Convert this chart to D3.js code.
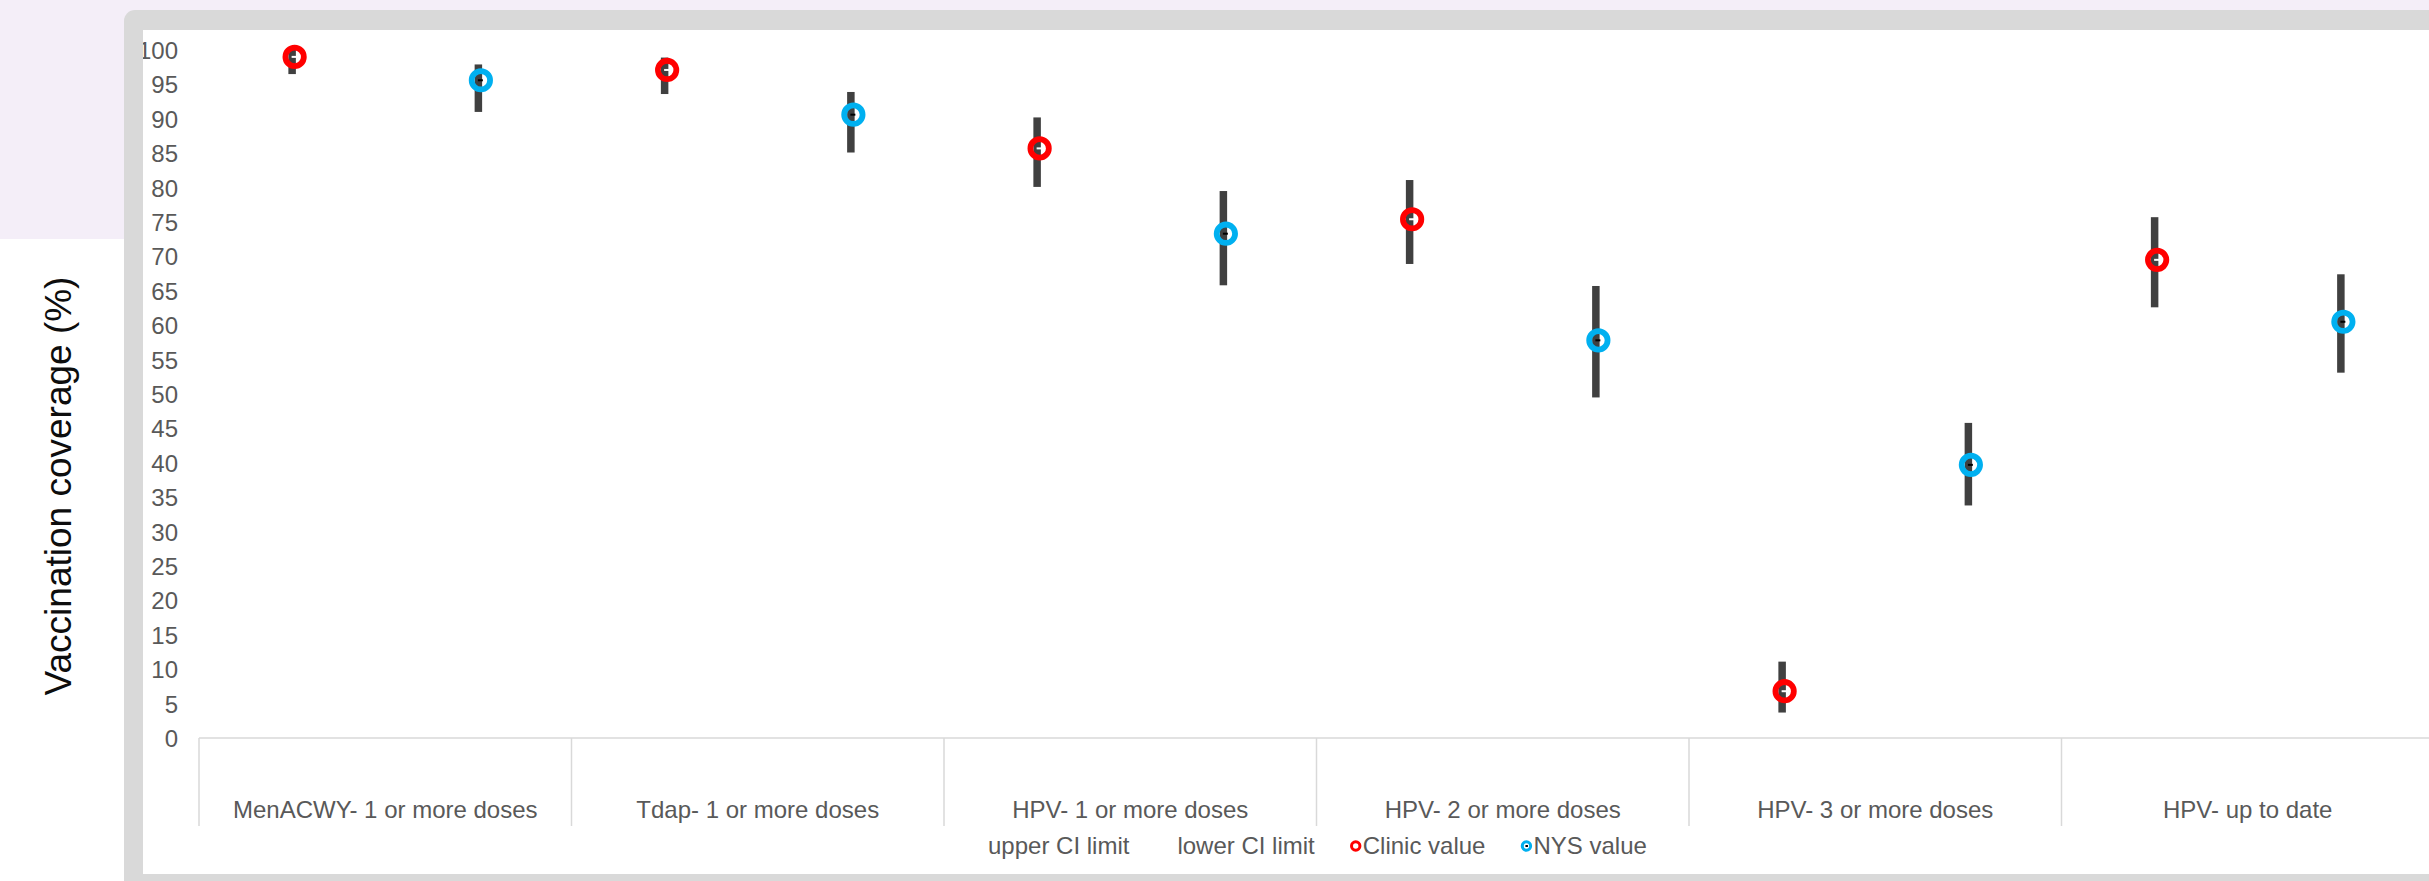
<!DOCTYPE html>
<html><head><meta charset="utf-8">
<script src="https://cdn.jsdelivr.net/npm/d3@7"></script>
<style>
body{margin:0;background:#fff;}
svg{display:block;font-family:"Liberation Sans",Arial,sans-serif;}
</style>
</head><body>
<svg id="c" width="2429" height="881"></svg>
<script>
const categories = ["MenACWY- 1 or more doses","Tdap- 1 or more doses","HPV- 1 or more doses","HPV- 2 or more doses","HPV- 3 or more doses","HPV- up to date"];
const clinicValue = [99.0, 97.1, 85.7, 75.4, 6.8, 69.5];
const clinicUpper = [100.0, 98.9, 90.2, 81.1, 11.1, 75.7];
const clinicLower = [96.5, 93.6, 80.1, 68.9, 3.7, 62.6];
const nysValue = [95.6, 90.6, 73.3, 57.8, 39.7, 60.5];
const nysUpper = [97.9, 93.9, 79.5, 65.7, 45.8, 67.4];
const nysLower = [91.0, 85.1, 65.8, 49.5, 33.8, 53.1];
const yTicks = [0,5,10,15,20,25,30,35,40,45,50,55,60,65,70,75,80,85,90,95,100];
const seriesNames = ["Clinic value","NYS value"];
const seriesColors = ["#ff0000","#00b0f0"];
const dashColors = ["#ffffff","#000000"];
const legendLabels = ["upper CI limit","lower CI limit","Clinic value","NYS value"];
const legendMarkers = [null, null, 0, 1];
const yTitle = "Vaccination coverage (%)";

const svg = d3.select("#c");
const W = 2429, H = 881;

// background decorations
svg.append("rect").attr("x",0).attr("y",0).attr("width",W).attr("height",12).attr("fill","#f4eef8");
svg.append("rect").attr("x",0).attr("y",0).attr("width",140).attr("height",239).attr("fill","#f4eef8");
svg.append("rect").attr("x",124).attr("y",10).attr("width",W).attr("height",H+40).attr("rx",11).attr("fill","#d9d9d9");
svg.append("rect").attr("x",143).attr("y",30).attr("width",W).attr("height",844).attr("fill","#ffffff");

svg.append("defs").append("clipPath").attr("id","inner")
  .append("rect").attr("x",143).attr("y",30).attr("width",W).attr("height",844);

const g = svg.append("g").attr("clip-path","url(#inner)");

const x = d3.scaleBand().domain(categories).range([199, 2434]).padding(0);
const xs = d3.scaleBand().domain(seriesNames).range([0, x.bandwidth()]).padding(0);
const y = d3.scaleLinear().domain([0,100]).range([738, 50]);

// y axis labels
const yAxis = d3.axisLeft(y).tickValues(yTicks).tickSize(0).tickPadding(0).tickFormat(d3.format("d"));
const yg = g.append("g").attr("transform","translate(178,0)").call(yAxis);
yg.select(".domain").remove();
yg.selectAll("text").attr("font-size",24).attr("fill","#595959")
  .attr("font-family","'Liberation Sans',Arial,sans-serif").attr("dy","0.35em");

// x axis line
const xr = x.range();
g.append("line").attr("x1",xr[0]).attr("x2",xr[1]).attr("y1",y(0)).attr("y2",y(0))
  .attr("stroke","#d9d9d9").attr("stroke-width",1.5);
// category separators
const bounds = categories.map(c => x(c)).concat([xr[1]]);
g.selectAll("line.sep").data(bounds).join("line").attr("class","sep")
  .attr("x1",d=>d).attr("x2",d=>d).attr("y1",y(0)).attr("y2",826)
  .attr("stroke","#d9d9d9").attr("stroke-width",1.5);
// category labels
g.selectAll("text.cat").data(categories).join("text").attr("class","cat")
  .attr("x",d=>x(d)+x.bandwidth()/2).attr("y",818)
  .attr("text-anchor","middle").attr("font-size",24).attr("fill","#595959").text(d=>d);

// y title
svg.append("text").attr("transform","translate(58,486) rotate(-90)")
  .attr("text-anchor","middle").attr("dominant-baseline","central")
  .attr("font-size",37).attr("fill","#0d0d0d").text(yTitle);

// data
const series = [
  {name:seriesNames[0], v:clinicValue, hi:clinicUpper, lo:clinicLower, s:0},
  {name:seriesNames[1], v:nysValue, hi:nysUpper, lo:nysLower, s:1}
];
const pts = [];
series.forEach(se => categories.forEach((c,i) => pts.push({c, v:se.v[i], hi:se.hi[i], lo:se.lo[i], s:se.s, name:se.name})));
const px = d => x(d.c) + xs(d.name) + xs.bandwidth()/2;

g.selectAll("rect.err").data(pts).join("rect").attr("class","err")
  .attr("x",d=>px(d)-3.75).attr("width",7.5)
  .attr("y",d=>y(d.hi)).attr("height",d=>y(d.lo)-y(d.hi))
  .attr("fill","#404040");
g.selectAll("circle.pt").data(pts).join("circle").attr("class","pt")
  .attr("cx",d=>px(d)+2.5).attr("cy",d=>y(d.v)).attr("r",9.2)
  .attr("fill","none").attr("stroke",d=>seriesColors[d.s]).attr("stroke-width",5.8);
g.selectAll("rect.dash").data(pts).join("rect").attr("class","dash")
  .attr("x",d=>px(d)-0.5).attr("y",d=>y(d.v)-1).attr("width",5).attr("height",2)
  .attr("fill",d=>dashColors[d.s]);

// legend
const lg = svg.append("g");
let lx = 974;
const ly = 846;
legendLabels.forEach((lab,i) => {
  const m = legendMarkers[i];
  if (m !== null) {
    lg.append("circle").attr("cx",lx+7).attr("cy",ly).attr("r",4.2)
      .attr("fill","#fff").attr("stroke",seriesColors[m]).attr("stroke-width",3);
    lg.append("rect").attr("x",lx+6).attr("y",ly-1).attr("width",2.5).attr("height",2).attr("fill",dashColors[m]);
  }
  const t = lg.append("text").attr("x",lx+14).attr("y",ly).attr("dy","0.35em")
    .attr("font-size",24).attr("fill","#595959").text(lab);
  const w = t.node().getComputedTextLength();
  lx = lx + 14 + w + 34;
});
</script>
</body></html>
